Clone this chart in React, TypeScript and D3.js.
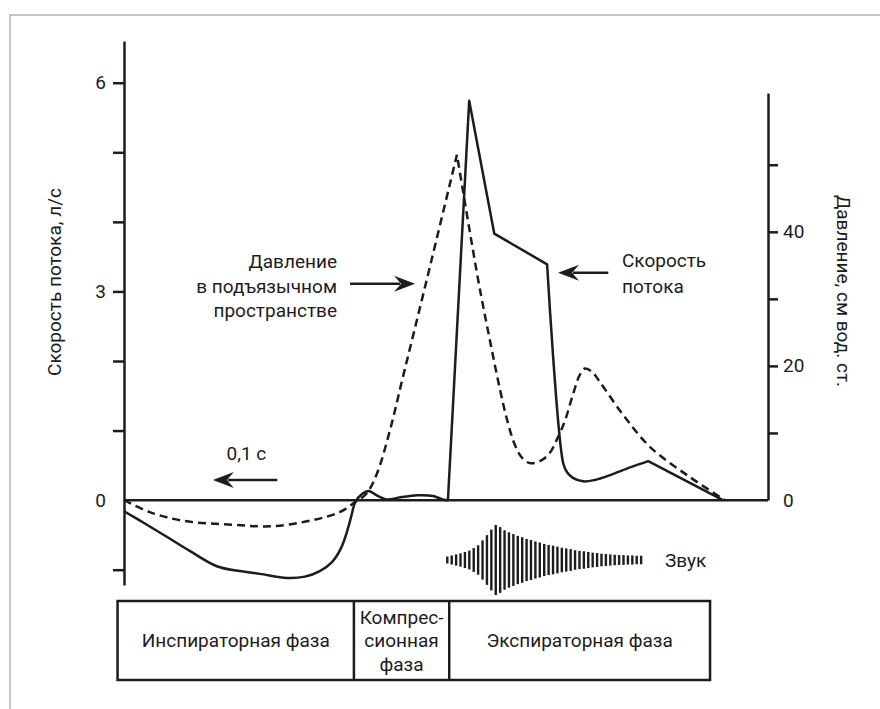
import { useEffect, useRef } from "react";
import * as d3 from "d3";

const W = 880;
const H = 709;
const FONT = "Roboto, 'Noto Sans', sans-serif";
const INK = "#1c1c1c";

// time axis in seconds
const flowT = [0, 0.033, 0.067, 0.102, 0.144, 0.18, 0.211, 0.253, 0.281, 0.304, 0.323, 0.337, 0.348, 0.354, 0.359, 0.37, 0.38, 0.394, 0.408, 0.429, 0.455, 0.48, 0.495, 0.503, 0.536, 0.575, 0.657, 0.682, 0.688, 0.697, 0.713, 0.731, 0.755, 0.786, 0.814, 0.93];
// flow, l/s
const flowV = [-0.16, -0.34, -0.53, -0.73, -0.95, -1.02, -1.06, -1.12, -1.1, -1.02, -0.89, -0.69, -0.4, -0.19, -0.03, 0.09, 0.13, 0.06, 0.01, 0.04, 0.07, 0.06, 0.01, 0, 5.74, 3.83, 3.39, 0.53, 0.4, 0.32, 0.27, 0.29, 0.36, 0.47, 0.56, 0];
// indices where the flow trace has a sharp corner
const flowCorners = [23, 24, 25, 26, 34];

const presT = [0, 0.04, 0.092, 0.169, 0.231, 0.293, 0.335, 0.359, 0.377, 0.393, 0.413, 0.432, 0.47, 0.517, 0.55, 0.568, 0.584, 0.595, 0.607, 0.618, 0.63, 0.646, 0.661, 0.674, 0.685, 0.697, 0.708, 0.716, 0.727, 0.739, 0.775, 0.817, 0.879, 0.933];
// subglottic pressure, cm H2O
const presP = [0, -1.8, -3.1, -3.7, -3.9, -3.0, -1.8, -0.3, 1.0, 4.0, 10.4, 17.9, 32.8, 51.5, 32.8, 23.9, 16.4, 11.9, 8.2, 6.3, 5.5, 5.8, 7.0, 9.4, 11.9, 15.7, 18.7, 19.6, 19.1, 17.6, 12.7, 7.9, 3.4, 0];
const presCorners = [13];

// sound envelope (relative amplitude), spread over soundSpan
const soundAmp = [10, 13, 16, 19, 23, 27, 34, 42, 56, 71, 87, 100, 94, 85, 79, 74, 69, 65, 60, 57, 53, 50, 46, 43, 41, 38, 35, 33, 31, 28, 26, 25, 23, 21, 20, 18, 17, 16, 15, 14, 14, 13, 13, 12, 12];
const soundSpan = [0.502, 0.803];

const flowTicks = [-1, 0, 1, 2, 3, 4, 5, 6];
const flowLabels = [0, 3, 6];
const presTicks = [0, 10, 20, 30, 40, 50];
const presLabels = [0, 20, 40];

const phaseEdges = [-0.01, 0.357, 0.505, 0.91];
const phaseNames = [["Инспираторная фаза"], ["Компрес-", "сионная", "фаза"], ["Экспираторная фаза"]];

const x = d3.scaleLinear().domain([0, 1]).range([124, 768]);
const yFlow = d3.scaleLinear().domain([-1.22, 6.6]).range([585, 41]);
const yPres = d3.scaleLinear().domain([0, 60.7]).range([500, 93]);

// smooth between corners, one continuous path
function tracePath(ts: number[], vs: number[], y: d3.ScaleLinear<number, number>, corners: number[]) {
  const pts: [number, number][] = ts.map((t, i) => [x(t), y(vs[i])]);
  const cuts = [0, ...corners, pts.length - 1];
  const gen = d3.line().curve(d3.curveCatmullRom.alpha(0.5));
  let d = "";
  for (let k = 0; k < cuts.length - 1; k++) {
    const seg = gen(pts.slice(cuts[k], cuts[k + 1] + 1)) ?? "";
    d += k === 0 ? seg : seg.replace(/^M[^A-Za-z]*/, "");
  }
  return d;
}

const Arrow = ({ x1, x2, y }: { x1: number; x2: number; y: number }) => {
  const dir = Math.sign(x2 - x1);
  const head = `M${x2},${y} L${x2 - dir * 21},${y - 8} L${x2 - dir * 14},${y} L${x2 - dir * 21},${y + 8} Z`;
  return (
    <g>
      <line x1={x1} x2={x2 - dir * 15} y1={y} y2={y} stroke={INK} strokeWidth={2.5} />
      <path d={head} fill={INK} />
    </g>
  );
};

export default function App() {
  const leftRef = useRef<SVGGElement>(null);
  const rightRef = useRef<SVGGElement>(null);

  useEffect(() => {
    const left = d3.select(leftRef.current);
    left.selectAll("*").remove();
    left.call(
      d3
        .axisLeft(yFlow)
        .tickValues(flowTicks)
        .tickSize(11)
        .tickSizeOuter(0)
        .tickPadding(7)
        .tickFormat((d) => (flowLabels.includes(+d) ? String(d) : "")) as any
    );
    left.selectAll(".tick").filter((d: any) => d === 0).select("line").remove();

    const right = d3.select(rightRef.current);
    right.selectAll("*").remove();
    right.call(
      d3
        .axisRight(yPres)
        .tickValues(presTicks)
        .tickSize(10)
        .tickSizeOuter(0)
        .tickPadding(5)
        .tickFormat((d) => (presLabels.includes(+d) ? String(d) : "")) as any
    );
    right.selectAll(".tick").filter((d: any) => d === 0).select("line").remove();

    [left, right].forEach((g) => {
      g.selectAll("path, line").attr("stroke", INK).attr("stroke-width", 2.5);
      g.selectAll("text")
        .attr("fill", INK)
        .style("font-family", FONT)
        .style("font-size", "19px");
    });
  }, []);

  const soundX = d3
    .scalePoint<number>()
    .domain(soundAmp.map((_, i) => i))
    .range([x(soundSpan[0]), x(soundSpan[1])]);
  const soundH = d3.scaleLinear().domain([0, 100]).range([0, 35]);
  const soundY = 560;

  const tableTop = 601;
  const tableBottom = 680;
  const tableMid = (tableTop + tableBottom) / 2;

  return (
    <svg
      width={W}
      height={H}
      style={{ position: "absolute", left: 0, top: 0, background: "#fff" }}
      fontFamily={FONT}
    >
      <rect x={10} y={15} width={900} height={760} fill="none" stroke="#b5b5b5" strokeWidth={1.5} />

      <g ref={leftRef} transform={`translate(${x(0)},0)`} />
      <g ref={rightRef} transform={`translate(${x(1)},0)`} />

      <line x1={x(0)} x2={x(1)} y1={yFlow(0)} y2={yFlow(0)} stroke={INK} strokeWidth={2.5} />

      <path d={tracePath(presT, presP, yPres, presCorners)} fill="none" stroke={INK} strokeWidth={2.5} strokeDasharray="8 5" />
      <path d={tracePath(flowT, flowV, yFlow, flowCorners)} fill="none" stroke={INK} strokeWidth={2.5} strokeLinejoin="round" />

      {soundAmp.map((a, i) => (
        <line
          key={i}
          x1={soundX(i)}
          x2={soundX(i)}
          y1={soundY - soundH(a)}
          y2={soundY + soundH(a)}
          stroke={INK}
          strokeWidth={2.4}
        />
      ))}
      <text x={665} y={soundY} dominantBaseline="central" fontSize={19} fill={INK}>
        Звук
      </text>

      {/* axis titles */}
      <text transform="translate(54,282) rotate(-90)" textAnchor="middle" dominantBaseline="central" fontSize={19} fill={INK}>
        Скорость потока, л/с
      </text>
      <text transform="translate(843,291) rotate(90)" textAnchor="middle" dominantBaseline="central" fontSize={19} fill={INK}>
        Давление, см вод. ст.
      </text>

      {/* 0.1 s marker */}
      <Arrow x1={x(0.238)} x2={x(0.138)} y={yFlow(0.29)} />
      <text x={x(0.19)} y={460} textAnchor="middle" fontSize={19} fill={INK}>
        0,1 с
      </text>

      {/* pressure note */}
      <Arrow x1={x(0.351)} x2={x(0.452)} y={yFlow(3.11)} />
      <text textAnchor="end" fontSize={19} fill={INK}>
        {["Давление", "в подъязычном", "пространстве"].map((s, i) => (
          <tspan key={i} x={337} y={268 + i * 24.5}>
            {s}
          </tspan>
        ))}
      </text>

      {/* flow note */}
      <Arrow x1={x(0.752)} x2={x(0.674)} y={yFlow(3.27)} />
      <text fontSize={19} fill={INK}>
        {["Скорость", "потока"].map((s, i) => (
          <tspan key={i} x={622} y={267 + i * 25.5}>
            {s}
          </tspan>
        ))}
      </text>

      {/* phase table */}
      <rect
        x={x(phaseEdges[0])}
        y={tableTop}
        width={x(phaseEdges[3]) - x(phaseEdges[0])}
        height={tableBottom - tableTop}
        fill="none"
        stroke={INK}
        strokeWidth={2.5}
      />
      {phaseEdges.slice(1, 3).map((e, i) => (
        <line key={i} x1={x(e)} x2={x(e)} y1={tableTop} y2={tableBottom} stroke={INK} strokeWidth={2.5} />
      ))}
      {phaseNames.map((lines, i) => {
        const cx = (x(phaseEdges[i]) + x(phaseEdges[i + 1])) / 2;
        const start = tableMid - ((lines.length - 1) * 23.5) / 2;
        return (
          <text key={i} textAnchor="middle" fontSize={19} fill={INK}>
            {lines.map((s, j) => (
              <tspan key={j} x={cx} y={start + j * 23.5} dominantBaseline="central">
                {s}
              </tspan>
            ))}
          </text>
        );
      })}
    </svg>
  );
}
